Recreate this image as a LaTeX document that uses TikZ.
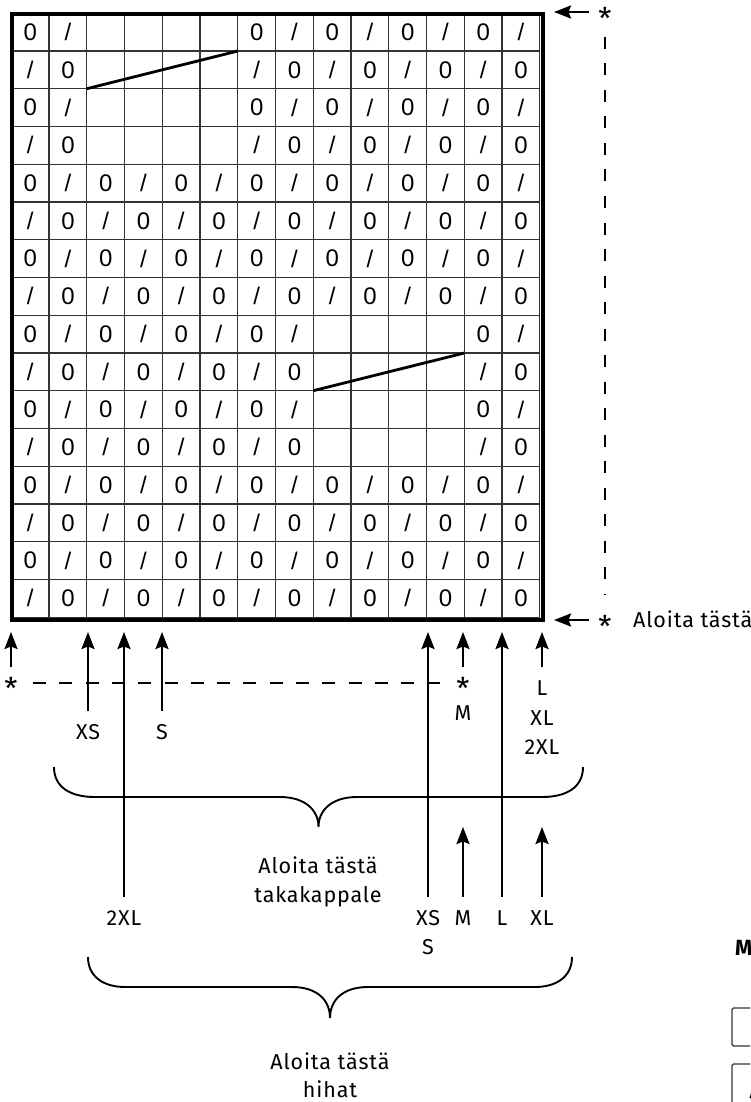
\documentclass[tikz,border=0pt]{standalone}
\usepackage{fontspec}
\usetikzlibrary{arrows.meta}
\newfontfamily\lblf{Fira Sans}[LetterSpace=4]
\newfontfamily\starf{Fira Sans}
\newfontfamily\gridf{Liberation Sans}
\begin{document}
\begin{tikzpicture}[x=1pt,y=-1pt,
  lbl/.style={font=\lblf\fontsize{21.5}{26}\selectfont, inner sep=0pt, text height=15pt, text depth=0pt},
  starlbl/.style={font=\starf\fontsize{30}{30}\selectfont, inner sep=0pt, anchor=base, text height=0.75em, text depth=-0.42em},
  cellsym/.style={font=\gridf\fontsize{24}{26}\selectfont, inner sep=0pt},
  gridline/.style={line width=1.3pt, draw=black!80},
  border/.style={line width=3.8pt, draw=black},
  arr/.style={line width=2.3pt, -{Stealth[length=17pt,width=13pt,inset=2.5pt]}},
  dsh/.style={line width=2.6pt, dash pattern=on 13pt off 13.3pt},
  vdsh/.style={line width=2.8pt, dash pattern=on 12pt off 14.5pt},
  bracepath/.style={line width=1.9pt},
  diag/.style={line width=2.8pt},
  legendbox/.style={line width=1.3pt, draw=black!80, rounded corners=1.5pt}]
\useasboundingbox (0,0) rectangle (750,1102);
\clip (0,0) rectangle (750,1102);
% grid lines
\foreach \i in {0,...,14}{
  \draw[gridline] ({11.3+\i*37.75},13.2) -- ({11.3+\i*37.75},617.2);
}
\foreach \j in {0,...,16}{
  \draw[gridline] (11.3,{13.2+\j*37.75}) -- (539.8,{13.2+\j*37.75});
}
% cell symbols
\foreach \row [count=\r] in {
 {0,/,{},{},{},{},0,/,0,/,0,/,0,/},
 {/,0,{},{},{},{},/,0,/,0,/,0,/,0},
 {0,/,{},{},{},{},0,/,0,/,0,/,0,/},
 {/,0,{},{},{},{},/,0,/,0,/,0,/,0},
 {0,/,0,/,0,/,0,/,0,/,0,/,0,/},
 {/,0,/,0,/,0,/,0,/,0,/,0,/,0},
 {0,/,0,/,0,/,0,/,0,/,0,/,0,/},
 {/,0,/,0,/,0,/,0,/,0,/,0,/,0},
 {0,/,0,/,0,/,0,/,{},{},{},{},0,/},
 {/,0,/,0,/,0,/,0,{},{},{},{},/,0},
 {0,/,0,/,0,/,0,/,{},{},{},{},0,/},
 {/,0,/,0,/,0,/,0,{},{},{},{},/,0},
 {0,/,0,/,0,/,0,/,0,/,0,/,0,/},
 {/,0,/,0,/,0,/,0,/,0,/,0,/,0},
 {0,/,0,/,0,/,0,/,0,/,0,/,0,/},
 {/,0,/,0,/,0,/,0,/,0,/,0,/,0}}{
  \foreach \s [count=\c] in \row {
    \node[cellsym] (c-\r-\c) at ({11.3+(\c-0.5)*37.75},{13.2+(\r-0.5)*37.75}) {\s};
  }
}
% outer border
\node[border, minimum width=530.5pt, minimum height=605.9pt, inner sep=0pt, anchor=north west] (grid) at (10.3,12.2) {};
% diagonals in blank areas
\coordinate (d1a) at (86.8,88.7);
\coordinate (d1b) at (237.8,51.0);
\coordinate (d2a) at (313.3,390.7);
\coordinate (d2b) at (464.3,353.0);
\draw[diag] (d1a) -- (d1b);
\draw[diag] (d2a) -- (d2b);
% right side: arrows, stars, dashed line
\node[starlbl] (sttop) at (605,30) {*};
\node[starlbl] (stbot) at (605,637) {*};
\coordinate (rt1) at (589,12);
\coordinate (rh1) at (554,12);
\coordinate (rt2) at (589,620);
\coordinate (rh2) at (554,620);
\draw[arr] (rt1) -- (rh1);
\draw[arr] (rt2) -- (rh2);
\coordinate (vd1) at (605,37);
\coordinate (vd2) at (605,595);
\draw[vdsh] (vd1) -- (vd2);
\node[lbl, anchor=west] (start) at (633,620) {Aloita tästä};
% bottom arrows (upper set)
\coordinate (tA) at (11,632);   \coordinate (bA) at (11,667);
\coordinate (tB) at (88,632);   \coordinate (bB) at (88,711);
\coordinate (tC) at (124,632);  \coordinate (bC) at (124,897);
\coordinate (tD) at (162,632);  \coordinate (bD) at (162,711);
\coordinate (tE) at (428,632);  \coordinate (bE) at (428,897);
\coordinate (tF) at (463,632);  \coordinate (bF) at (463,667);
\coordinate (tG) at (502,632);  \coordinate (bG) at (502,897);
\coordinate (tH) at (542,632);  \coordinate (bH) at (542,667);
\foreach \k in {A,B,C,D,E,F,G,H}{ \draw[arr] (b\k) -- (t\k); }
% horizontal dashed line with stars
\node[starlbl] (stl) at (11,699) {*};
\node[starlbl] (stm) at (463,699) {*};
\coordinate (hd1) at (33,683);
\coordinate (hd2) at (440,683);
\draw[dsh] (hd1) -- (hd2);
% labels upper
\node[lbl] (lXS1) at (88,732) {XS};
\node[lbl] (lS1) at (162,732) {S};
\node[lbl] (lM1) at (463,713) {M};
\node[lbl] (lL1) at (542,688) {L};
\node[lbl] (lXL1) at (542,718) {XL};
\node[lbl] (l2XL1) at (542,747) {2XL};
% brace 1
\draw[bracepath] (54,767) .. controls (54,787) and (70,797) .. (95,797) -- (280,797)
  .. controls (305,797) and (318.5,810) .. (318.5,827)
  .. controls (318.5,810) and (332,797) .. (357,797) -- (542,797)
  .. controls (567,797) and (583,787) .. (583,767);
\node[lbl] (take1) at (318,866) {Aloita tästä};
\node[lbl] (take2) at (318,895) {takakappale};
% lower small arrows
\coordinate (tI) at (463,827);  \coordinate (bI) at (463,897);
\coordinate (tJ) at (542,827);  \coordinate (bJ) at (542,897);
\draw[arr] (bI) -- (tI);
\draw[arr] (bJ) -- (tJ);
% labels lower
\node[lbl] (l2XL2) at (124,918) {2XL};
\node[lbl] (lXS2) at (428,918) {XS};
\node[lbl] (lS2) at (428,947) {S};
\node[lbl] (lM2) at (463,918) {M};
\node[lbl] (lL2) at (502,918) {L};
\node[lbl] (lXL2) at (542,918) {XL};
% brace 2
\draw[bracepath] (88,957) .. controls (88,977) and (104,987) .. (125,987) -- (292,987)
  .. controls (317,987) and (330,1000) .. (330,1018)
  .. controls (330,1000) and (343,987) .. (368,987) -- (535,987)
  .. controls (556,987) and (572,977) .. (572,957);
\node[lbl] (hih1) at (330,1062) {Aloita tästä};
\node[lbl] (hih2) at (330,1090) {hihat};
% legend (cut off at the right edge)
\node[lbl, font=\starf\bfseries\fontsize{22}{26}\selectfont, anchor=west] (legM) at (735,948) {M};
\draw[legendbox] (732,1008) rectangle (775,1046);
\draw[legendbox] (732,1064) rectangle (775,1125);
\node[cellsym] (legsym) at (753,1090) {/};
\end{tikzpicture}
\end{document}
